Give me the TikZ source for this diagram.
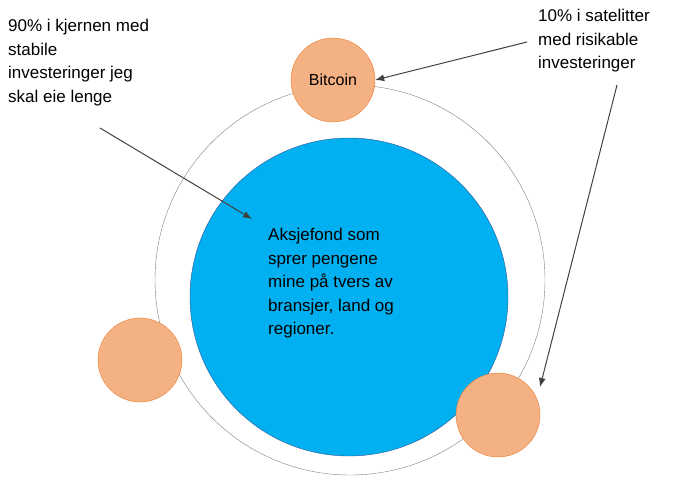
\documentclass[tikz,border=0pt]{standalone}
\usepackage{fontspec}
\setmainfont{Liberation Sans}
\definecolor{sat}{HTML}{F4B183}
\definecolor{satline}{HTML}{ED7D31}
\definecolor{kjerne}{HTML}{00B0F0}
\definecolor{kjerneline}{HTML}{2F5597}
\newcommand{\satn}{\node[circle, draw=satline, fill=sat, minimum size=84pt, inner sep=0pt]}
\tikzset{lbl/.style={align=left, anchor=north west, font=\fontsize{17}{23.5}\selectfont, inner sep=0pt},
  pil/.style={-{Latex[length=9pt,width=7pt]}, draw=black!75, line width=1pt}}
\usetikzlibrary{arrows.meta}
\begin{document}
\begin{tikzpicture}[x=1pt, y=-1pt]
    \useasboundingbox (0,0) rectangle (679,500);
    \draw[gray, thin] (350,280) circle[radius=195];
    \node[circle, draw=kjerneline, fill=kjerne, minimum size=318pt] (kjerne) at (349,297) {};
    \satn (btc) at (333,80) {\fontsize{16}{19}\selectfont Bitcoin};
    \satn (s1) at (140,360) {};
    \satn (s2) at (498,415) {};

    \node[lbl] (tv) at (8,19) {90\% i kjernen med\\stabile\\investeringer jeg\\skal eie lenge};
    \node[lbl] (th) at (538,9) {10\% i satelitter\\med risikable\\investeringer};
    \node[lbl] (tk) at (268,228) {Aksjefond som\\sprer pengene\\mine på tvers av\\bransjer, land og\\regioner.};

    \coordinate (a1) at (100,128);
    \coordinate (a1e) at (252,219);
    \coordinate (a2) at (527,42);
    \coordinate (a3) at (617,85);
    \coordinate (a3e) at (540,387);

    \draw[pil] (a1) -- (a1e);
    \draw[pil] (a2) -- (btc.east);
    \draw[pil] (a3) -- (a3e);
\end{tikzpicture}
\end{document}
